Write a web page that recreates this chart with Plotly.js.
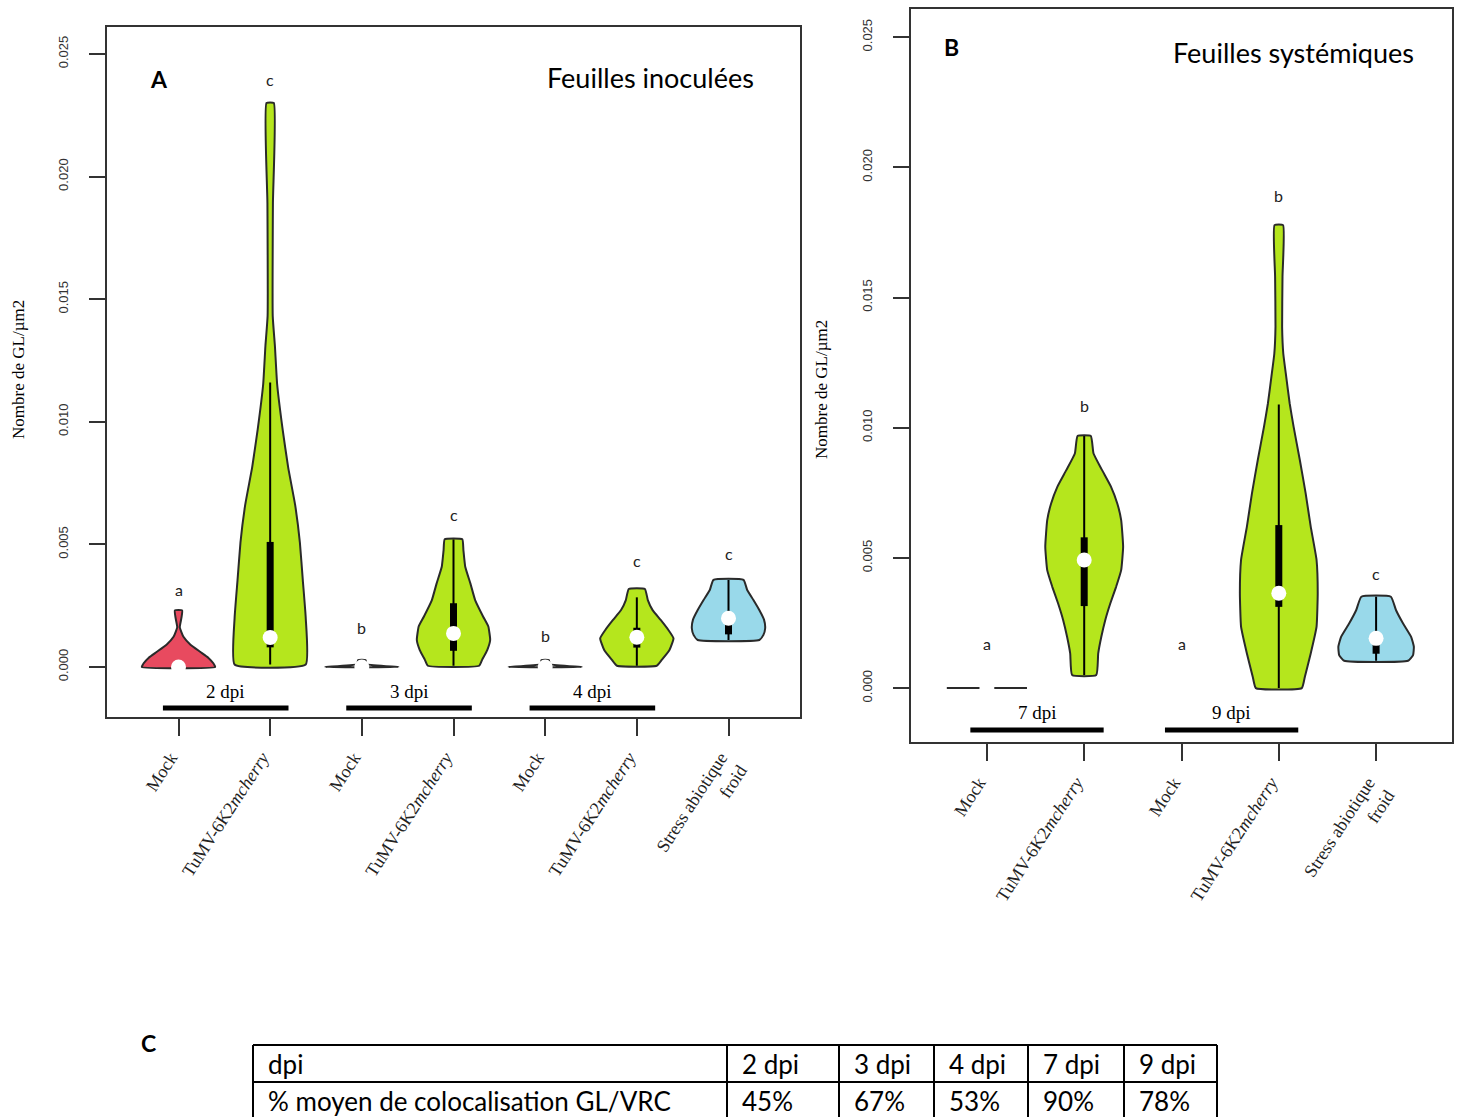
<!DOCTYPE html>
<html><head><meta charset="utf-8">
<script src="https://cdn.plot.ly/plotly-3.0.1.min.js"></script>
<style>html,body{margin:0;padding:0;background:#fff}#chart{width:1464px;height:1117px}</style>
</head><body><div id="chart"></div>
<script>
// ---------- Panel A : Feuilles inoculées ----------
const catsA = ['Mock','TuMV-6K2<i>mcherry</i>','Mock','TuMV-6K2<i>mcherry</i>','Mock','TuMV-6K2<i>mcherry</i>','Stress abiotique<br>froid'];
const groupsA = ['2 dpi','3 dpi','4 dpi'];
const lettersA = ['a','c','b','c','b','c','c'];
const letterYA = [0.00318,0.02394,0.00163,0.0062,0.0013,0.00436,0.00461];
const whiskLoA = [0,0.0001,0,0.00005,0,0.00005,0.0011];
const q1A      = [0,0.0008,0,0.00066,0,0.00079,0.00133];
const medA     = [0,0.0012,0,0.00137,0,0.00121,0.00199];
const q3A      = [0,0.0051,0,0.0026,0,0.0016,0.0021];
const whiskHiA = [0,0.0116,0,0.0052,0,0.00284,0.00355];
// density profiles : value levels and relative widths
const mock2dpiY = [0,0.00015,0.00038,0.00062,0.00092,0.00123,0.00162,0.002,0.00231];
const mock2dpiD = [1,0.95,0.81,0.59,0.32,0.135,0.035,0.08,0.1];
const tumv2dpiY = [0.0001,0.002,0.00354,0.00508,0.00662,0.00815,0.00969,0.01154,0.01308,0.01431,0.01892,0.0230];
const tumv2dpiD = [0.97,0.97,0.89,0.81,0.68,0.49,0.34,0.19,0.13,0.07,0.075,0.1];
const mock3dpiY = [0,0.00011,0.00028];
const mock3dpiD = [1,0.13,0.1];
const tumv3dpiY = [0.00005,0.00029,0.00069,0.0011,0.00165,0.00205,0.00273,0.00341,0.00409,0.00477,0.00521];
const tumv3dpiD = [0.7,0.78,0.92,1,0.95,0.81,0.59,0.46,0.32,0.27,0.24];
const mock4dpiY = [0,0.00011,0.00028];
const mock4dpiD = [1,0.13,0.1];
const tumv4dpiY = [0.00005,0.00029,0.00069,0.00117,0.00151,0.00192,0.00232,0.00273,0.00318];
const tumv4dpiD = [0.54,0.68,0.89,1,0.86,0.65,0.43,0.3,0.22];
const stressAY = [0.0011,0.0013,0.00158,0.00192,0.00232,0.00273,0.00314,0.00355];
const stressAD = [0.84,0.95,1,0.97,0.84,0.68,0.51,0.41];

// ---------- Panel B : Feuilles systémiques ----------
const catsB = ['Mock','TuMV-6K2<i>mcherry</i>','Mock','TuMV-6K2<i>mcherry</i>','Stress abiotique<br>froid'];
const groupsB = ['7 dpi','9 dpi'];
const lettersB = ['a','b','a','b','c'];
const letterYB = [0.00173,0.01087,0.00173,0.01893,0.00442];
const whiskLoB = [0,0.0005,0,0,0.00105];
const q1B      = [0,0.00315,0,0.00312,0.00132];
const medB     = [0,0.00492,0,0.00364,0.00191];
const q3B      = [0,0.00579,0,0.00626,0.0021];
const whiskHiB = [0,0.00968,0,0.01089,0.00351];
const mock7dpiY = [0,0];
const mock7dpiD = [1.03,1.03];
const tumv7dpiY = [0.0005,0.00133,0.00197,0.00261,0.00325,0.00389,0.00453,0.00543,0.00645,0.00709,0.00773,0.00837,0.00901,0.00968];
const tumv7dpiD = [0.31,0.36,0.44,0.54,0.67,0.82,0.95,1,0.95,0.85,0.69,0.46,0.24,0.17];
const mock9dpiY = [];
const mock9dpiD = [];
const tumv9dpiY = [0,0.00044,0.00133,0.00236,0.00364,0.00492,0.0062,0.00748,0.00876,0.01004,0.01093,0.01196,0.01285,0.01388,0.0158,0.01778];
const tumv9dpiD = [0.59,0.67,0.82,0.97,1,0.97,0.82,0.69,0.54,0.38,0.28,0.19,0.115,0.085,0.095,0.11];
const stressBY = [0.00105,0.00127,0.00159,0.00197,0.00249,0.0030,0.00351];
const stressBD = [0.82,0.95,0.97,0.9,0.69,0.51,0.38];

// ---------- Panel C : table ----------
const tableHeader = ['dpi','2 dpi','3 dpi','4 dpi','7 dpi','9 dpi'];
const tableRow = ['% moyen de colocalisation GL/VRC','45%','67%','53%','90%','78%'];

const yTicks = [0,0.005,0.01,0.015,0.02,0.025];

// ---------- drawing ----------
const RED='#E84A5F', GREEN='#B5E61D', BLUE='#99D9EA', WHITE='#ffffff';
const profilesA = [[mock2dpiY,mock2dpiD,RED],[tumv2dpiY,tumv2dpiD,GREEN],[mock3dpiY,mock3dpiD,WHITE],[tumv3dpiY,tumv3dpiD,GREEN],[mock4dpiY,mock4dpiD,WHITE],[tumv4dpiY,tumv4dpiD,GREEN],[stressAY,stressAD,BLUE]];
const profilesB = [[mock7dpiY,mock7dpiD,WHITE],[tumv7dpiY,tumv7dpiD,GREEN],[mock9dpiY,mock9dpiD,WHITE],[tumv9dpiY,tumv9dpiD,GREEN],[stressBY,stressBD,BLUE]];
const W = 0.4;
const traces = [];
function addPanel(profiles, wl, q1, med, q3, wh, xa, ya){
  profiles.forEach((p,i)=>{
    const pos=i+1, ys=p[0], ds=p[1];
    if(!ys.length) return;
    const x=[],y=[];
    for(let k=0;k<ys.length;k++){x.push(pos+ds[k]*W);y.push(ys[k]);}
    for(let k=ys.length-1;k>=0;k--){x.push(pos-ds[k]*W);y.push(ys[k]);}
    x.push(x[0]);y.push(y[0]);
    traces.push({type:'scatter',mode:'lines',x,y,xaxis:xa,yaxis:ya,fill:'toself',fillcolor:p[2],
      line:{color:'#2a2a2a',width:2,shape:'spline',smoothing:0.4},hoverinfo:'skip',showlegend:false});
  });
  profiles.forEach((p,i)=>{
    const pos=i+1;
    if(wh[i]>wl[i]) traces.push({type:'scatter',mode:'lines',x:[pos,pos],y:[wl[i],wh[i]],xaxis:xa,yaxis:ya,
      line:{color:'#000',width:2},hoverinfo:'skip',showlegend:false});
    if(q3[i]>q1[i]) traces.push({type:'scatter',mode:'lines',x:[pos,pos],y:[q1[i],q3[i]],xaxis:xa,yaxis:ya,
      line:{color:'#000',width:7},hoverinfo:'skip',showlegend:false});
  });
  traces.push({type:'scatter',mode:'markers',x:profiles.map((p,i)=>i+1),y:med,xaxis:xa,yaxis:ya,
    marker:{color:'#fff',size:15,line:{width:0}},hoverinfo:'skip',showlegend:false});
}
addPanel(profilesA,whiskLoA,q1A,medA,q3A,whiskHiA,'x','y');
addPanel(profilesB,whiskLoB,q1B,medB,q3B,whiskHiB,'x2','y2');

const W0=1464,H0=1117;
const px=v=>v/W0, py=v=>1-v/H0;
const serif='Liberation Serif, Times New Roman, serif';
const sans='Lato, Calibri, sans-serif';
const axisCommon={showline:true,mirror:true,linecolor:'#333',linewidth:2,ticks:'outside',tickwidth:2,tickcolor:'#333',
  showgrid:false,zeroline:false,fixedrange:true};
const xCommon=Object.assign({},axisCommon,{ticklen:17,tickangle:-57,tickfont:{family:serif,size:18,color:'#222'},ticklabelstandoff:4,ticklabelshift:-8});
const yCommon=Object.assign({},axisCommon,{ticklen:16,tickangle:-90,tickvals:yTicks,ticktext:yTicks.map(v=>v.toFixed(3)),
  tickfont:{family:'Liberation Sans, Arial, sans-serif',size:13,color:'#333'},ticklabelstandoff:16});

const layout={width:W0,height:H0,margin:{l:0,r:0,t:0,b:0},paper_bgcolor:'#fff',plot_bgcolor:'#fff',showlegend:false,
  xaxis:Object.assign({},xCommon,{domain:[px(107),px(800)],range:[0.22,7.78],tickvals:catsA.map((c,i)=>i+1),ticktext:catsA,anchor:'y'}),
  yaxis:Object.assign({},yCommon,{domain:[py(717),py(27)],range:[-0.00204,0.0261],anchor:'x'}),
  xaxis2:Object.assign({},xCommon,{domain:[px(911),px(1452)],range:[0.22,5.78],tickvals:catsB.map((c,i)=>i+1),ticktext:catsB,anchor:'y2'}),
  yaxis2:Object.assign({},yCommon,{domain:[py(742),py(9)],range:[-0.00207,0.02608],anchor:'x2'}),
  shapes:[],annotations:[]};

const A=layout.annotations, S=layout.shapes;
function note(o){A.push(Object.assign({showarrow:false,xanchor:'center',yanchor:'middle'},o));}
// letters
lettersA.forEach((t,i)=>note({xref:'x',yref:'y',x:i+1,y:letterYA[i],text:t,font:{family:sans,size:16,color:'#222'}}));
lettersB.forEach((t,i)=>note({xref:'x2',yref:'y2',x:i+1,y:letterYB[i],text:t,font:{family:sans,size:16,color:'#222'}}));
// group bars and labels
groupsA.forEach((g,k)=>{const a=2*k+1,b=2*k+2,c=(a-0.17+b+0.2)/2;
  S.push({type:'line',xref:'x',yref:'y',x0:a-0.17,x1:b+0.2,y0:-0.00167,y1:-0.00167,line:{color:'#000',width:5}});
  note({xref:'x',yref:'y',x:c,y:-0.00098,text:g,font:{family:serif,size:19,color:'#000'}});});
groupsB.forEach((g,k)=>{const a=2*k+1,b=2*k+2,c=(a-0.17+b+0.2)/2;
  S.push({type:'line',xref:'x2',yref:'y2',x0:a-0.17,x1:b+0.2,y0:-0.00161,y1:-0.00161,line:{color:'#000',width:5}});
  note({xref:'x2',yref:'y2',x:c,y:-0.00092,text:g,font:{family:serif,size:19,color:'#000'}});});
// titles
note({xref:'paper',yref:'paper',x:px(159),y:py(79),text:'<b>A</b>',font:{family:sans,size:23,color:'#000'}});
note({xref:'paper',yref:'paper',x:px(650),y:py(77),text:'Feuilles inoculées',font:{family:sans,size:27,color:'#000'}});
note({xref:'paper',yref:'paper',x:px(951),y:py(47),text:'<b>B</b>',font:{family:sans,size:23,color:'#000'}});
note({xref:'paper',yref:'paper',x:px(1293),y:py(53),text:'Feuilles systémiques',font:{family:sans,size:27,color:'#000'}});
note({xref:'paper',yref:'paper',x:px(18),y:py(370),text:'Nombre de GL/µm2',textangle:-90,font:{family:serif,size:17,color:'#000'}});
note({xref:'paper',yref:'paper',x:px(822),y:py(390),text:'Nombre de GL/µm2',textangle:-90,font:{family:serif,size:17,color:'#000'}});
note({xref:'paper',yref:'paper',x:px(148),y:py(1043),text:'<b>C</b>',font:{family:sans,size:23,color:'#000'}});
// table
const colX=[253,727,839,934,1028,1124,1217];
const rowTop=1045,rowMid=1082,rowBot=1119;
[rowTop,rowMid,rowBot].forEach(yv=>S.push({type:'line',xref:'paper',yref:'paper',x0:px(colX[0]),x1:px(colX[6]),y0:py(yv),y1:py(yv),line:{color:'#000',width:2}}));
colX.forEach(xv=>S.push({type:'line',xref:'paper',yref:'paper',x0:px(xv),x1:px(xv),y0:py(rowTop),y1:py(rowBot),line:{color:'#000',width:2}}));
tableHeader.forEach((t,i)=>note({xref:'paper',yref:'paper',x:px(colX[i]+13),y:py((rowTop+rowMid)/2),xanchor:'left',text:t,font:{family:sans,size:26,color:'#000'}}));
tableRow.forEach((t,i)=>note({xref:'paper',yref:'paper',x:px(colX[i]+13),y:py((rowMid+rowBot)/2),xanchor:'left',text:t,font:{family:sans,size:26,color:'#000'}}));

Plotly.newPlot('chart',traces,layout,{displayModeBar:false,staticPlot:true});
</script></body></html>
